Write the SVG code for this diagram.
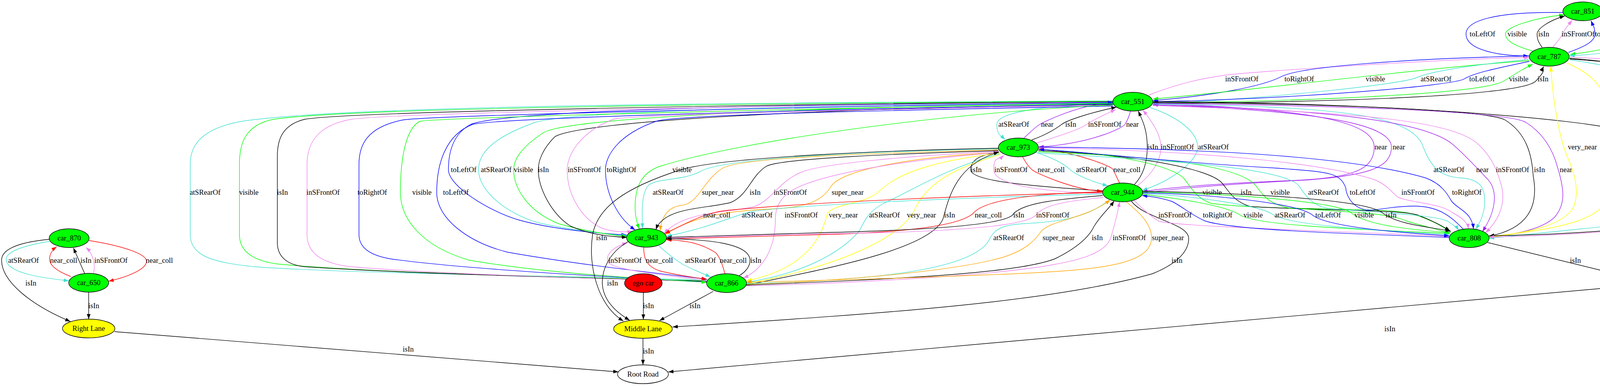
<svg xmlns="http://www.w3.org/2000/svg" width="4704" height="987" viewBox="0 0 4704 987">
<style>
.n ellipse{stroke:#000;stroke-width:1.4}
.n text,.l{font-family:"Liberation Serif","Times New Roman",serif;font-size:18.67px;text-anchor:middle;fill:#000}
#edges path{fill:none;stroke-width:1.4}
.k{stroke:#000;marker-end:url(#ak)}
.b{stroke:#0000ff;marker-end:url(#ab)}
.g{stroke:#00ff00;marker-end:url(#ag)}
.v{stroke:#ee82ee;marker-end:url(#av)}
.t{stroke:#40e0d0;marker-end:url(#at)}
.r{stroke:#ff0000;marker-end:url(#ar)}
.o{stroke:#ffa500;marker-end:url(#ao)}
.y{stroke:#ffff00;marker-end:url(#ay)}
.p{stroke:#a020f0;marker-end:url(#ap)}
</style>
<defs>
<marker id="ak" markerUnits="userSpaceOnUse" markerWidth="14" markerHeight="10" refX="13" refY="5" orient="auto"><path d="M0,0.3 L13,5 L0,9.7 z" fill="#000"/></marker>
<marker id="ab" markerUnits="userSpaceOnUse" markerWidth="14" markerHeight="10" refX="13" refY="5" orient="auto"><path d="M0,0.3 L13,5 L0,9.7 z" fill="#0000ff"/></marker>
<marker id="ag" markerUnits="userSpaceOnUse" markerWidth="14" markerHeight="10" refX="13" refY="5" orient="auto"><path d="M0,0.3 L13,5 L0,9.7 z" fill="#00ff00"/></marker>
<marker id="av" markerUnits="userSpaceOnUse" markerWidth="14" markerHeight="10" refX="13" refY="5" orient="auto"><path d="M0,0.3 L13,5 L0,9.7 z" fill="#ee82ee"/></marker>
<marker id="at" markerUnits="userSpaceOnUse" markerWidth="14" markerHeight="10" refX="13" refY="5" orient="auto"><path d="M0,0.3 L13,5 L0,9.7 z" fill="#40e0d0"/></marker>
<marker id="ar" markerUnits="userSpaceOnUse" markerWidth="14" markerHeight="10" refX="13" refY="5" orient="auto"><path d="M0,0.3 L13,5 L0,9.7 z" fill="#ff0000"/></marker>
<marker id="ao" markerUnits="userSpaceOnUse" markerWidth="14" markerHeight="10" refX="13" refY="5" orient="auto"><path d="M0,0.3 L13,5 L0,9.7 z" fill="#ffa500"/></marker>
<marker id="ay" markerUnits="userSpaceOnUse" markerWidth="14" markerHeight="10" refX="13" refY="5" orient="auto"><path d="M0,0.3 L13,5 L0,9.7 z" fill="#ffff00"/></marker>
<marker id="ap" markerUnits="userSpaceOnUse" markerWidth="14" markerHeight="10" refX="13" refY="5" orient="auto"><path d="M0,0.3 L13,5 L0,9.7 z" fill="#a020f0"/></marker>
</defs>
<rect width="4704" height="987" fill="#fff"/>
<g id="edges">
<!-- car_851 / car_787 -->
<g><path class="b" d="M4001,32 C3860,30 3753,45 3753,87 S3840,143 3913,143"/><text class="l" x="3795" y="93">toLeftOf</text></g>
<g><path class="g" d="M3925,131 C3880,118 3854,105 3854,87 S3930,45 4004,38"/><text class="l" x="3884" y="93">visible</text></g>
<g><path class="k" d="M3948,121 C3938,108 3935,100 3935,87 S3965,52 4006,41"/><text class="l" x="3952" y="93">isIn</text></g>
<g><path class="v" d="M3975,121 C3985,108 3995,98 4000,87 S4016,62 4025,52"/><text class="l" x="4040" y="93">inSFrontOf</text></g>
<g><path class="b" d="M4015,134 C4060,118 4083,105 4083,87 S4078,65 4073,53"/><text class="l" x="4121" y="93">toRightOf</text></g>
<g><path class="g" d="M4100,37 C4160,45 4188,65 4188,87 S4100,130 4020,139"/><text class="l" x="4214" y="93">visible</text></g>
<g><path class="t" d="M4103,31 C4200,35 4250,60 4250,87 S4120,140 4018,142"/><text class="l" x="4290" y="93">atSRearOf</text></g>
<!-- car_787 / car_551 -->
<g><path class="v" d="M2941,243 C3020,212 3080,200 3138,192 S3700,150 3915,147"/><text class="l" x="3179" y="208">inSFrontOf</text></g>
<g><path class="b" d="M3915,143 C3600,150 3330,170 3280,196 S3100,245 2952,257"/><text class="l" x="3326" y="208">toRightOf</text></g>
<g><path class="g" d="M3915,155 C3600,178 3200,232 2952,253"/><text class="l" x="3521" y="208">visible</text></g>
<g><path class="t" d="M3913,152 C3750,168 3660,184 3625,199 S3300,248 2953,266"/><text class="l" x="3676" y="208">atSRearOf</text></g>
<g><path class="b" d="M3915,157 C3830,175 3775,186 3748,202 S3350,252 2952,260"/><text class="l" x="3794" y="208">toLeftOf</text></g>
<g><path class="g" d="M2952,263 C3400,258 3800,238 3850,207 S3902,175 3924,164"/><text class="l" x="3888" y="208">visible</text></g>
<g><path class="k" d="M2952,265 C3500,260 3900,242 3932,207 S3945,182 3952,170"/><text class="l" x="3950" y="208">isIn</text></g>
<!-- car_551 / car_973 -->
<g><path class="t" d="M2849,264 C2650,270 2552,290 2552,318 S2562,346 2573,357"/><text class="l" x="2595" y="324">atSRearOf</text></g>
<g><path class="p" d="M2621,353 C2640,336 2650,325 2662,318 S2760,268 2849,262"/><text class="l" x="2681" y="324">near</text></g>
<g><path class="k" d="M2641,358 C2680,344 2702,330 2718,318 S2800,286 2858,274"/><text class="l" x="2741" y="324">isIn</text></g>
<g><path class="v" d="M2653,366 C2720,345 2765,330 2782,318 S2830,292 2856,280"/><text class="l" x="2828" y="324">inSFrontOf</text></g>
<g><path class="p" d="M2894,284 C2890,300 2885,310 2880,318 S2800,366 2659,376"/><text class="l" x="2899" y="324">near</text></g>
<!-- car_551 / car_944 -->
<g><path class="k" d="M2904,472 C2925,450 2937,420 2937,376 S2925,308 2914,284"/><text class="l" x="2951" y="382">isIn</text></g>
<g><path class="v" d="M2912,475 C2950,445 2972,410 2972,376 S2945,305 2926,282"/><text class="l" x="3014" y="382">inSFrontOf</text></g>
<g><path class="t" d="M2944,275 C3020,300 3066,340 3066,376 S3000,462 2924,487"/><text class="l" x="3106" y="382">atSRearOf</text></g>
<g><path class="p" d="M2951,265 C3350,278 3518,310 3518,376 C3518,440 3450,455 3300,462 C3100,470 2990,480 2925,490"/><text class="l" x="3535" y="382">near</text></g>
<g><path class="p" d="M2925,494 C2990,484 3100,473 3350,460 C3500,448 3562,430 3562,376 C3562,320 3400,284 2951,268"/><text class="l" x="3581" y="382">near</text></g>
<!-- car_973 / car_944 -->
<g><path class="k" d="M2823,488 C2650,476 2485,465 2485,434 S2520,396 2557,388"/><text class="l" x="2499" y="440">isIn</text></g>
<g><path class="v" d="M2823,495 C2650,490 2544,470 2544,434 S2556,410 2570,397"/><text class="l" x="2588" y="440">inSFrontOf</text></g>
<g><path class="r" d="M2618,401 C2625,415 2632,425 2642,434 S2750,486 2822,489"/><text class="l" x="2691" y="440">near_coll</text></g>
<g><path class="t" d="M2650,389 C2700,405 2725,420 2740,434 S2800,466 2836,475"/><text class="l" x="2794" y="440">atSRearOf</text></g>
<g><path class="r" d="M2866,468 C2860,455 2855,445 2850,434 S2740,386 2659,381"/><text class="l" x="2885" y="440">near_coll</text></g>
<!-- car_551 / car_943 -->
<g><path class="b" d="M2849,262 C2000,265 1300,282 1205,318 C1155,345 1148,400 1148,434 C1148,475 1250,540 1330,563 C1420,588 1540,597 1604,601"/><text class="l" x="1187" y="440">toLeftOf</text></g>
<g><path class="t" d="M2849,263 C2000,268 1450,287 1370,313 C1260,352 1225,392 1225,434 C1225,490 1300,548 1380,570 C1470,590 1550,598 1605,603"/><text class="l" x="1270" y="440">atSRearOf</text></g>
<g><path class="g" d="M2849,265 C2100,272 1450,300 1390,340 C1330,380 1315,410 1315,434 C1315,480 1350,540 1430,572 C1500,592 1560,600 1605,605"/><text class="l" x="1340" y="440">visible</text></g>
<g><path class="k" d="M2849,267 C2100,276 1480,310 1420,350 C1390,380 1378,410 1378,434 C1378,480 1410,545 1460,578 C1510,600 1560,605 1605,607"/><text class="l" x="1391" y="440">isIn</text></g>
<g><path class="v" d="M2849,269 C2100,282 1600,295 1570,305 C1480,340 1452,400 1452,434 C1452,500 1490,560 1540,583 C1570,594 1600,594 1619,591"/><text class="l" x="1496" y="440">inSFrontOf</text></g>
<g><path class="b" d="M2849,271 C2100,285 1720,296 1680,310 C1580,345 1550,400 1550,434 C1550,500 1585,560 1626,588"/><text class="l" x="1591" y="440">toRightOf</text></g>
<g><path class="g" d="M2851,268 C2400,290 1900,360 1690,425 C1640,442 1628,480 1626,520 C1625,550 1630,570 1637,585"/><text class="l" x="1746" y="440">visible</text></g>
<!-- car_551 / car_866 -->
<g><path class="t" d="M2849,258 C2000,262 900,268 620,310 C505,330 487,380 487,420 L487,600 C487,660 560,672 650,682 C900,700 1500,706 1809,716"/><text class="l" x="525" y="498">atSRearOf</text></g>
<g><path class="g" d="M2849,259 C2000,263 900,275 700,305 C625,320 613,370 613,420 L613,600 C613,650 660,670 720,676 C1000,700 1500,710 1809,718"/><text class="l" x="637" y="498">visible</text></g>
<g><path class="k" d="M2849,260 C2000,265 900,285 780,305 C720,320 710,360 710,400 L710,620 C710,660 740,678 780,682 C1050,700 1500,711 1809,719"/><text class="l" x="723" y="498">isIn</text></g>
<g><path class="v" d="M2849,261 C2000,268 1000,290 900,305 C810,320 786,370 786,420 L786,600 C786,650 830,675 900,682 C1100,700 1500,712 1809,720"/><text class="l" x="827" y="498">inSFrontOf</text></g>
<g><path class="b" d="M1809,721 C1600,710 1200,690 1000,662 C960,655 919,640 919,600 L919,420 C919,370 940,325 1030,307 C1100,295 2100,272 2849,262"/><text class="l" x="953" y="498">toRightOf</text></g>
<g><path class="g" d="M2849,264 C2100,276 1150,300 1075,310 C1035,330 1025,420 1025,492 C1025,560 1080,630 1200,665 C1400,700 1650,712 1809,722"/><text class="l" x="1080" y="498">visible</text></g>
<g><path class="b" d="M2849,266 C2100,280 1300,300 1210,318 C1140,345 1118,420 1118,492 C1118,560 1200,620 1300,645 C1500,680 1700,700 1810,714"/><text class="l" x="1167" y="498">toLeftOf</text></g>
<!-- car_973 / car_943 -->
<g><path class="t" d="M2556,381 C2300,385 1850,400 1790,440 C1745,462 1690,455 1662,472 C1642,490 1643,540 1645,584"/><text class="l" x="1710" y="498">atSRearOf</text></g>
<g><path class="o" d="M2556,383 C2300,390 1900,400 1850,430 C1800,460 1790,520 1745,525 C1705,530 1693,560 1690,590"/><text class="l" x="1838" y="498">super_near</text></g>
<g><path class="k" d="M2556,385 C2300,393 2000,405 1962,425 C1922,450 1915,500 1870,518 C1800,535 1700,530 1679,587"/><text class="l" x="1933" y="498">isIn</text></g>
<g><path class="v" d="M2556,387 C2300,400 2100,420 2052,440 C1992,465 1978,510 1932,528 C1860,545 1750,540 1700,597"/><text class="l" x="2023" y="498">inSFrontOf</text></g>
<g><path class="o" d="M2558,390 C2350,400 2150,432 2125,480 C2100,520 2050,532 1960,535 C1850,540 1760,560 1703,600"/><text class="l" x="2170" y="498">super_near</text></g>
<!-- car_973 / car_866 -->
<g><path class="v" d="M2557,390 C2300,410 2060,450 2010,500 C1990,520 1985,540 1985,560 C1985,640 1950,690 1903,711"/><text class="l" x="2051" y="556">inSFrontOf</text></g>
<g><path class="y" d="M2557,392 C2400,410 2300,440 2250,490 C2210,525 2125,520 2117,550 C2100,620 2050,690 1911,718"/><text class="l" x="2159" y="556">very_near</text></g>
<g><path class="t" d="M2559,393 C2420,430 2330,490 2262,520 C2225,540 2215,560 2200,590 C2150,650 2050,700 1911,722"/><text class="l" x="2264" y="556">atSRearOf</text></g>
<g><path class="y" d="M2561,395 C2440,430 2370,470 2340,540 C2300,610 2150,680 1911,726"/><text class="l" x="2359" y="556">very_near</text></g>
<g><path class="k" d="M1910,729 C2100,690 2380,640 2414,560 C2430,500 2450,420 2557,389"/><text class="l" x="2431" y="556">isIn</text></g>
<!-- car_944 / car_943 -->
<g><path class="r" d="M2823,492 C2500,500 2100,515 1860,538 C1800,545 1765,568 1702,597"/><text class="l" x="1835" y="556">near_coll</text></g>
<g><path class="t" d="M2823,496 C2500,505 2100,520 1928,540 C1880,550 1820,582 1706,604"/><text class="l" x="1938" y="556">atSRearOf</text></g>
<g><path class="r" d="M2822,490 C2650,495 2520,510 2492,545 C2455,580 2300,595 2100,600 C1900,606 1780,610 1706,611"/><text class="l" x="2530" y="556">near_coll</text></g>
<g><path class="k" d="M2823,500 C2700,510 2612,520 2592,550 C2560,580 2300,590 2100,595 C1900,600 1780,605 1707,607"/><text class="l" x="2608" y="556">isIn</text></g>
<g><path class="v" d="M2824,505 C2720,515 2672,525 2652,550 C2620,585 2350,595 2100,598 C1900,602 1780,607 1707,609"/><text class="l" x="2695" y="556">inSFrontOf</text></g>
<!-- car_944 / car_866 -->
<g><path class="t" d="M2840,511 C2780,560 2700,568 2620,572 C2560,575 2545,590 2535,608 C2505,680 2300,716 1911,725"/><text class="l" x="2582" y="614">atSRearOf</text></g>
<g><path class="o" d="M1911,727 C2200,716 2450,690 2560,660 C2630,640 2650,612 2665,592 C2690,562 2780,560 2842,511"/><text class="l" x="2710" y="614">super_near</text></g>
<g><path class="k" d="M1911,729 C2300,713 2600,700 2700,662 C2762,632 2790,602 2800,580 C2818,550 2838,535 2852,514"/><text class="l" x="2809" y="614">isIn</text></g>
<g><path class="v" d="M1911,731 C2300,721 2600,696 2700,676 C2790,660 2830,640 2843,610 C2852,580 2860,552 2866,516"/><text class="l" x="2891" y="614">inSFrontOf</text></g>
<g><path class="o" d="M2883,516 C2920,545 2948,575 2948,608 C2948,680 2800,690 2600,700 C2300,712 2100,718 1911,721"/><text class="l" x="2990" y="614">super_near</text></g>
<g><path class="k" d="M2896,514 C2930,560 3043,570 3043,610 C3043,650 3000,680 2950,700 C2700,770 2300,800 1722,836"/><text class="l" x="3013" y="672">isIn</text></g>
<!-- car_943 / car_866 -->
<g><path class="v" d="M1809,718 C1700,702 1580,692 1558,672 C1546,652 1572,630 1606,621"/><text class="l" x="1600" y="672">inSFrontOf</text></g>
<g><path class="r" d="M1648,632 C1648,655 1650,680 1690,693 C1740,705 1780,710 1809,714"/><text class="l" x="1688" y="672">near_coll</text></g>
<g><path class="t" d="M1686,628 C1710,650 1730,665 1748,676 C1775,690 1800,700 1819,708"/><text class="l" x="1793" y="672">atSRearOf</text></g>
<g><path class="r" d="M1856,700 C1850,680 1845,660 1832,646 C1792,620 1752,615 1706,613"/><text class="l" x="1877" y="672">near_coll</text></g>
<g><path class="k" d="M1892,705 C1910,695 1920,680 1920,666 C1920,620 1800,612 1706,610"/><text class="l" x="1935" y="672">isIn</text></g>
<!-- lanes (middle) -->
<g><path class="k" d="M1608,618 C1560,645 1540,690 1542,727 C1545,770 1580,800 1612,819"/><text class="l" x="1568" y="730">isIn</text></g>
<g><path class="k" d="M2556,379 C2300,384 1850,400 1740,435 C1600,480 1530,530 1517,600 C1505,680 1530,780 1596,821"/><text class="l" x="1540" y="614">isIn</text></g>
<g><path class="k" d="M1647,748 L1647,817"/><text class="l" x="1660" y="788">isIn</text></g>
<g><path class="k" d="M1826,745 L1688,820"/><text class="l" x="1779" y="788">isIn</text></g>
<g><path class="k" d="M1646,865 L1646,933"/><text class="l" x="1660" y="904">isIn</text></g>
<g><path class="k" d="M293,848 L1583,951"/><text class="l" x="1045" y="899">isIn</text></g>
<g><path class="k" d="M4162,732 L1711,951"/><text class="l" x="3558" y="847">isIn</text></g>
<!-- car_973 / car_808 -->
<g><path class="g" d="M2658,382 C2850,392 2990,420 3030,455 C3050,480 3060,505 3100,520 C3250,540 3560,528 3620,548 C3670,565 3695,580 3714,594"/><text class="l" x="3103" y="498">visible</text></g>
<g><path class="k" d="M2658,385 C2900,395 3100,430 3130,470 C3150,495 3160,515 3200,528 C3400,540 3580,535 3630,550 C3670,565 3695,580 3712,590"/><text class="l" x="3190" y="498">isIn</text></g>
<g><path class="g" d="M2658,388 C2950,400 3170,420 3215,475 C3235,500 3245,520 3300,532 C3450,542 3560,545 3600,565 C3650,580 3690,588 3712,598"/><text class="l" x="3277" y="498">visible</text></g>
<g><path class="t" d="M2657,391 C3000,410 3290,430 3325,475 C3345,505 3360,525 3400,533 C3550,545 3670,550 3705,565 C3720,575 3730,582 3734,589"/><text class="l" x="3388" y="498">atSRearOf</text></g>
<g><path class="b" d="M3747,587 C3720,560 3690,527 3620,527 C3560,527 3520,540 3498,537 C3460,530 3447,500 3445,480 C3430,440 3400,440 3270,430 C3000,415 2800,390 2660,382"/><text class="l" x="3488" y="498">toLeftOf</text></g>
<g><path class="v" d="M2659,378 C3100,385 3400,420 3520,460 C3555,475 3565,495 3580,505 C3620,520 3690,520 3720,545 C3750,560 3758,575 3759,585"/><text class="l" x="3630" y="498">inSFrontOf</text></g>
<g><path class="b" d="M2659,376 C3100,380 3460,400 3650,455 C3690,470 3705,495 3715,513 C3730,535 3768,540 3772,585"/><text class="l" x="3755" y="498">toRightOf</text></g>
<!-- car_944 / car_808 -->
<g><path class="v" d="M2903,512 C2930,540 2950,555 2965,565 C3000,580 3500,593 3710,605"/><text class="l" x="3008" y="556">inSFrontOf</text></g>
<g><path class="b" d="M3710,607 C3400,596 3150,587 3085,565 C3050,550 3030,530 3000,515 C2970,505 2945,502 2924,500"/><text class="l" x="3117" y="556">toRightOf</text></g>
<g><path class="g" d="M2924,497 C3000,505 3140,525 3175,550 C3220,578 3500,587 3710,597"/><text class="l" x="3208" y="556">visible</text></g>
<g><path class="t" d="M2924,495 C3050,500 3225,525 3258,548 C3300,578 3550,590 3710,600"/><text class="l" x="3302" y="556">atSRearOf</text></g>
<g><path class="b" d="M2924,493 C3100,496 3325,520 3360,550 C3400,582 3600,596 3710,603"/><text class="l" x="3400" y="556">toLeftOf</text></g>
<g><path class="g" d="M2924,491 C3150,495 3425,515 3460,545 C3500,577 3620,588 3712,595"/><text class="l" x="3492" y="556">visible</text></g>
<g><path class="k" d="M2924,489 C3200,494 3500,510 3540,545 C3580,575 3660,580 3714,591"/><text class="l" x="3561" y="556">isIn</text></g>
<!-- car_551 / car_808 -->
<g><path class="t" d="M2951,266 C3400,272 3600,290 3640,367 C3660,420 3680,452 3740,455 C3790,458 3805,480 3800,530 C3795,560 3785,575 3778,586"/><text class="l" x="3709" y="440">atSRearOf</text></g>
<g><path class="p" d="M2951,268 C3400,280 3650,310 3720,370 C3760,405 3790,440 3810,460 C3835,490 3830,540 3795,592"/><text class="l" x="3795" y="440">near</text></g>
<g><path class="v" d="M2951,270 C3400,285 3700,300 3780,365 C3820,400 3835,440 3845,480 C3855,530 3830,570 3803,595"/><text class="l" x="3872" y="440">inSFrontOf</text></g>
<g><path class="k" d="M2952,262 C3400,265 3780,280 3850,305 C3910,340 3922,400 3925,450 C3940,530 3910,585 3812,604"/><text class="l" x="3941" y="440">isIn</text></g>
<g><path class="p" d="M2952,264 C3450,270 3850,285 3905,312 C3950,340 3975,380 3988,430 C4003,480 4010,520 3980,555 C3950,585 3880,600 3812,606"/><text class="l" x="4009" y="440">near</text></g>
<g><path class="k" d="M2952,260 C3500,262 4050,300 4180,340 C4230,370 4250,430 4251,492 C4253,580 4240,640 4231,701"/><text class="l" x="4265" y="498">isIn</text></g>
<!-- car_787 / car_808 -->
<g><path class="y" d="M3812,607 C3900,595 4000,580 4028,530 C4045,490 4030,440 4014,405 C3990,350 3975,250 3970,170"/><text class="l" x="4051" y="382">very_near</text></g>
<g><path class="y" d="M4011,161 C4080,190 4116,230 4116,300 L4116,490 C4116,560 4000,585 3812,605"/><text class="l" x="4153" y="382">very_near</text></g>
<g><path class="t" d="M4020,153 C4200,180 4288,210 4288,290 L4288,490 C4288,560 4200,570 4050,585 C3950,595 3870,604 3812,609"/><text class="l" x="4326" y="382">atSRearOf</text></g>
<g><path class="k" d="M4018,149 C4300,170 4413,230 4413,330 L4413,500 C4413,560 4330,562 4250,575 C4100,595 3950,601 3812,603"/><text class="l" x="4428" y="382">isIn</text></g>
<g><path class="v" d="M4019,146 C4350,160 4487,220 4487,330 L4487,500 C4487,560 4400,566 4300,576 C4100,596 3950,604 3812,606"/><text class="l" x="4530" y="382">inSFrontOf</text></g>
<!-- Left Lane -->
<g><path class="k" d="M4018,151 C4400,175 4609,250 4609,400 L4609,610 C4609,690 4450,712 4284,719"/><text class="l" x="4623" y="440">isIn</text></g>
<g><path class="k" d="M4104,34 C4450,60 4670,160 4670,330 L4670,620 C4670,700 4450,718 4284,723"/><text class="l" x="4684" y="382">isIn</text></g>
<g><path class="k" d="M3808,620 L4175,710"/><text class="l" x="4033" y="672">isIn</text></g>
<!-- car_870 / car_650 / Right Lane -->
<g><path class="t" d="M127,617 C50,630 16,645 16,663 C16,700 120,712 176,718"/><text class="l" x="60" y="672">atSRearOf</text></g>
<g><path class="r" d="M181,707 C150,695 127,680 127,663 C127,648 135,638 145,631"/><text class="l" x="163" y="672">near_coll</text></g>
<g><path class="k" d="M217,700 L188,634"/><text class="l" x="220" y="672">isIn</text></g>
<g><path class="v" d="M239,700 C245,680 240,650 220,633"/><text class="l" x="284" y="672">inSFrontOf</text></g>
<g><path class="r" d="M228,615 C320,630 375,650 375,668 C375,690 320,710 278,719"/><text class="l" x="408" y="672">near_coll</text></g>
<g><path class="k" d="M126,612 C40,620 4,640 4,665 C4,720 80,780 180,822"/><text class="l" x="79" y="730">isIn</text></g>
<g><path class="k" d="M227,747 L227,816"/><text class="l" x="240" y="788">isIn</text></g>
</g>
<g id="car_851" class="n"><ellipse cx="4052" cy="29" rx="51" ry="24" fill="#00ff00"/><text x="4052" y="35">car_851</text></g>
<g id="car_787" class="n"><ellipse cx="3966" cy="145" rx="51" ry="24" fill="#00ff00"/><text x="3966" y="151">car_787</text></g>
<g id="car_551" class="n"><ellipse cx="2900" cy="260" rx="51" ry="24" fill="#00ff00"/><text x="2900" y="266">car_551</text></g>
<g id="car_973" class="n"><ellipse cx="2607" cy="377" rx="51" ry="24" fill="#00ff00"/><text x="2607" y="383">car_973</text></g>
<g id="car_944" class="n"><ellipse cx="2874" cy="492" rx="51" ry="24" fill="#00ff00"/><text x="2874" y="498">car_944</text></g>
<g id="car_943" class="n"><ellipse cx="1655" cy="608" rx="51" ry="24" fill="#00ff00"/><text x="1655" y="614">car_943</text></g>
<g id="car_808" class="n"><ellipse cx="3761" cy="609" rx="51" ry="24" fill="#00ff00"/><text x="3761" y="615">car_808</text></g>
<g id="car_870" class="n"><ellipse cx="177" cy="609" rx="51" ry="24" fill="#00ff00"/><text x="177" y="615">car_870</text></g>
<g id="car_650" class="n"><ellipse cx="227" cy="723" rx="51" ry="24" fill="#00ff00"/><text x="227" y="729">car_650</text></g>
<g id="car_866" class="n"><ellipse cx="1860" cy="724" rx="51" ry="24" fill="#00ff00"/><text x="1860" y="730">car_866</text></g>
<g id="ego_car" class="n"><ellipse cx="1647" cy="724" rx="48" ry="24" fill="#ff0000"/><text x="1647" y="730">ego car</text></g>
<g id="left_lane" class="n"><ellipse cx="4223" cy="725" rx="61" ry="24" fill="#ffff00"/><text x="4223" y="731">Left Lane</text></g>
<g id="middle_lane" class="n"><ellipse cx="1646" cy="841" rx="75" ry="24" fill="#ffff00"/><text x="1646" y="847">Middle Lane</text></g>
<g id="right_lane" class="n"><ellipse cx="227" cy="840" rx="67" ry="24" fill="#ffff00"/><text x="227" y="846">Right Lane</text></g>
<g id="root_road" class="n"><ellipse cx="1646" cy="957" rx="65" ry="24" fill="#ffffff"/><text x="1646" y="963">Root Road</text></g>
</svg>
